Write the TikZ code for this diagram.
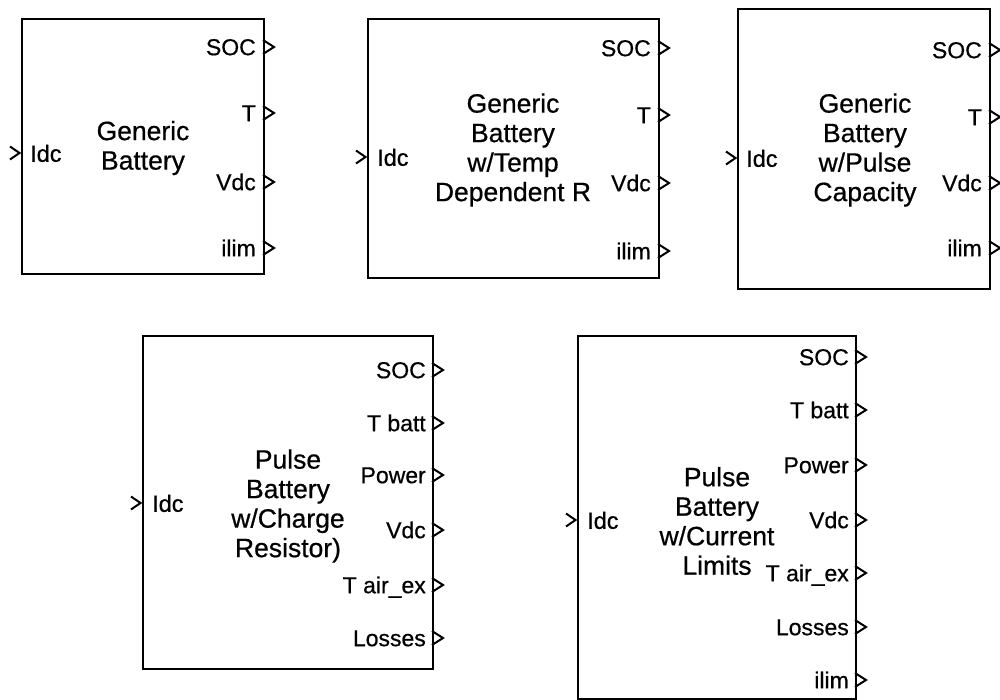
\documentclass[tikz,border=0pt]{standalone}
\usepackage{fontspec}
\setmainfont{Liberation Sans}
\newfontfamily\diagfont[FakeBold=0.6]{Liberation Sans}
\begin{document}
\begin{tikzpicture}[x=1pt,y=-1pt,
  block/.style={draw,line width=2.3pt,anchor=north west,inner sep=0pt},
  title/.style={align=center,inner sep=0pt,font=\diagfont\fontsize{26.5}{29.5}\selectfont},
  plabel/.style={anchor=base east,inner sep=0pt,font=\diagfont\fontsize{23}{24}\selectfont},
  ilabel/.style={anchor=base west,inner sep=0pt,font=\diagfont\fontsize{23.5}{24}\selectfont},
  pmark/.style={line width=2pt,line join=miter},
  outport/.pic={\draw[pmark] (0,-7) -- (11,0) -- (0,7);},
  inport/.pic={\draw[pmark] (-11,-6.5) -- (-1.5,0) -- (-11,6.5);}]
\useasboundingbox (0,0) rectangle (1000,700);

% ---------- Block 1 ----------
\node[block,minimum width=242pt,minimum height=255pt] (b1) at (21,18) {};
\node[title] (t1) at (143,148) {Generic\\Battery};
\pic at (21,153) {inport};
\node[ilabel] (b1in) at (30,161.8) {Idc};
\foreach \y/\t [count=\i] in {47/SOC,113/T,182/Vdc,248/ilim}{
  \pic at (263,\y) {outport};
  \node[plabel] (b1o\i) at (256,\y+8.2) {\t};
}

% ---------- Block 2 ----------
\node[block,minimum width=291pt,minimum height=259pt] (b2) at (367,18) {};
\node[title] (t2) at (513,150) {Generic\\Battery\\w/Temp\\Dependent R};
\pic at (367,157) {inport};
\node[ilabel] (b2in) at (377,165.8) {Idc};
\foreach \y/\t [count=\i] in {48/SOC,115/T,183/Vdc,251/ilim}{
  \pic at (658,\y) {outport};
  \node[plabel] (b2o\i) at (651,\y+8.2) {\t};
}

% ---------- Block 3 ----------
\node[block,minimum width=252pt,minimum height=280pt] (b3) at (737,8) {};
\node[title] (t3) at (865,150) {Generic\\Battery\\w/Pulse\\Capacity};
\pic at (737,158) {inport};
\node[ilabel] (b3in) at (746,166.8) {Idc};
\foreach \y/\t [count=\i] in {50/SOC,117/T,183/Vdc,248/ilim}{
  \pic at (989,\y) {outport};
  \node[plabel] (b3o\i) at (982,\y+8.2) {\t};
}

% ---------- Block 4 ----------
\node[block,minimum width=290pt,minimum height=333pt] (b4) at (142,335) {};
\node[title] (t4) at (288,506) {Pulse\\Battery\\w/Charge\\Resistor)};
\pic at (142,503) {inport};
\node[ilabel] (b4in) at (152,511.8) {Idc};
\foreach \y/\t [count=\i] in {370/SOC,423/T batt,475/Power,530/Vdc,585/T air\_ex,638/Losses}{
  \pic at (432,\y) {outport};
  \node[plabel] (b4o\i) at (426,\y+8.2) {\t};
}

% ---------- Block 5 ----------
\node[block,minimum width=278pt,minimum height=363pt] (b5) at (577,335) {};
\node[title] (t5) at (717,521) {Pulse\\Battery\\w/Current\\Limits};
\pic at (577,520) {inport};
\node[ilabel] (b5in) at (587,528.8) {Idc};
\foreach \y/\t [count=\i] in {357/SOC,410/T batt,465/Power,520/Vdc,573/T air\_ex,627/Losses,680/ilim}{
  \pic at (855,\y) {outport};
  \node[plabel] (b5o\i) at (849,\y+8.2) {\t};
}
\end{tikzpicture}
\end{document}
